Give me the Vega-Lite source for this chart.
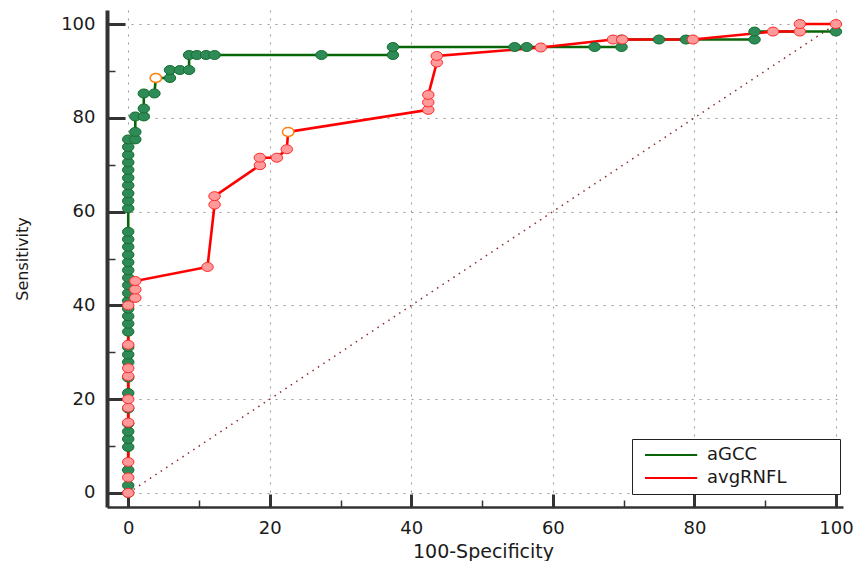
{
  "$schema": "https://vega.github.io/schema/vega-lite/v6.json",
  "width": 736,
  "height": 497,
  "autosize": {"type": "none"},
  "padding": {"left": 107, "top": 10, "right": 14, "bottom": 54},
  "background": "white",
  "config": {
    "view": {"stroke": null},
    "axis": {
      "labelFont": "DejaVu Sans",
      "labelFontSize": 18,
      "labelColor": "#1a1a1a",
      "titleFont": "DejaVu Sans",
      "titleFontSize": 16,
      "titleFontWeight": "normal",
      "titleColor": "#1a1a1a",
      "domainColor": "#333333",
      "tickColor": "#333333",
      "gridColor": "#9a9a9a",
      "gridDash": [2, 6],
      "gridWidth": 1
    }
  },
  "datasets": {
    "roc": [
      {"s": "aGCC", "i": 1, "x": 0, "y": 0, "opt": 0},
      {"s": "aGCC", "i": 2, "x": 0, "y": 1.6, "opt": 0},
      {"s": "aGCC", "i": 3, "x": 0, "y": 4.9, "opt": 0},
      {"s": "aGCC", "i": 4, "x": 0, "y": 9.8, "opt": 0},
      {"s": "aGCC", "i": 5, "x": 0, "y": 11.5, "opt": 0},
      {"s": "aGCC", "i": 6, "x": 0, "y": 13.1, "opt": 0},
      {"s": "aGCC", "i": 7, "x": 0, "y": 14.8, "opt": 0},
      {"s": "aGCC", "i": 8, "x": 0, "y": 18.0, "opt": 0},
      {"s": "aGCC", "i": 9, "x": 0, "y": 21.3, "opt": 0},
      {"s": "aGCC", "i": 10, "x": 0, "y": 24.6, "opt": 0},
      {"s": "aGCC", "i": 11, "x": 0, "y": 27.9, "opt": 0},
      {"s": "aGCC", "i": 12, "x": 0, "y": 29.5, "opt": 0},
      {"s": "aGCC", "i": 13, "x": 0, "y": 31.1, "opt": 0},
      {"s": "aGCC", "i": 14, "x": 0, "y": 34.4, "opt": 0},
      {"s": "aGCC", "i": 15, "x": 0, "y": 36.1, "opt": 0},
      {"s": "aGCC", "i": 16, "x": 0, "y": 37.7, "opt": 0},
      {"s": "aGCC", "i": 17, "x": 0, "y": 39.3, "opt": 0},
      {"s": "aGCC", "i": 18, "x": 0, "y": 41.0, "opt": 0},
      {"s": "aGCC", "i": 19, "x": 0, "y": 42.6, "opt": 0},
      {"s": "aGCC", "i": 20, "x": 0, "y": 44.3, "opt": 0},
      {"s": "aGCC", "i": 21, "x": 0, "y": 45.9, "opt": 0},
      {"s": "aGCC", "i": 22, "x": 0, "y": 47.5, "opt": 0},
      {"s": "aGCC", "i": 23, "x": 0, "y": 49.2, "opt": 0},
      {"s": "aGCC", "i": 24, "x": 0, "y": 50.8, "opt": 0},
      {"s": "aGCC", "i": 25, "x": 0, "y": 52.5, "opt": 0},
      {"s": "aGCC", "i": 26, "x": 0, "y": 54.1, "opt": 0},
      {"s": "aGCC", "i": 27, "x": 0, "y": 55.7, "opt": 0},
      {"s": "aGCC", "i": 28, "x": 0, "y": 60.7, "opt": 0},
      {"s": "aGCC", "i": 29, "x": 0, "y": 62.3, "opt": 0},
      {"s": "aGCC", "i": 30, "x": 0, "y": 63.9, "opt": 0},
      {"s": "aGCC", "i": 31, "x": 0, "y": 65.6, "opt": 0},
      {"s": "aGCC", "i": 32, "x": 0, "y": 67.2, "opt": 0},
      {"s": "aGCC", "i": 33, "x": 0, "y": 68.9, "opt": 0},
      {"s": "aGCC", "i": 34, "x": 0, "y": 70.5, "opt": 0},
      {"s": "aGCC", "i": 35, "x": 0, "y": 72.1, "opt": 0},
      {"s": "aGCC", "i": 36, "x": 0, "y": 73.8, "opt": 0},
      {"s": "aGCC", "i": 37, "x": 0, "y": 75.4, "opt": 0},
      {"s": "aGCC", "i": 38, "x": 1.0, "y": 75.4, "opt": 0},
      {"s": "aGCC", "i": 39, "x": 1.0, "y": 77.0, "opt": 0},
      {"s": "aGCC", "i": 40, "x": 1.0, "y": 80.3, "opt": 0},
      {"s": "aGCC", "i": 41, "x": 2.2, "y": 80.3, "opt": 0},
      {"s": "aGCC", "i": 42, "x": 2.2, "y": 82.0, "opt": 0},
      {"s": "aGCC", "i": 43, "x": 2.2, "y": 85.2, "opt": 0},
      {"s": "aGCC", "i": 44, "x": 3.7, "y": 85.2, "opt": 0},
      {"s": "aGCC", "i": 45, "x": 3.9, "y": 88.5, "opt": 1},
      {"s": "aGCC", "i": 46, "x": 5.9, "y": 88.5, "opt": 0},
      {"s": "aGCC", "i": 47, "x": 5.9, "y": 90.2, "opt": 0},
      {"s": "aGCC", "i": 48, "x": 7.3, "y": 90.2, "opt": 0},
      {"s": "aGCC", "i": 49, "x": 8.6, "y": 90.2, "opt": 0},
      {"s": "aGCC", "i": 50, "x": 8.6, "y": 93.4, "opt": 0},
      {"s": "aGCC", "i": 51, "x": 9.7, "y": 93.4, "opt": 0},
      {"s": "aGCC", "i": 52, "x": 11.0, "y": 93.4, "opt": 0},
      {"s": "aGCC", "i": 53, "x": 12.2, "y": 93.4, "opt": 0},
      {"s": "aGCC", "i": 54, "x": 27.3, "y": 93.4, "opt": 0},
      {"s": "aGCC", "i": 55, "x": 37.4, "y": 93.4, "opt": 0},
      {"s": "aGCC", "i": 56, "x": 37.4, "y": 95.1, "opt": 0},
      {"s": "aGCC", "i": 57, "x": 54.6, "y": 95.1, "opt": 0},
      {"s": "aGCC", "i": 58, "x": 56.3, "y": 95.1, "opt": 0},
      {"s": "aGCC", "i": 59, "x": 65.9, "y": 95.1, "opt": 0},
      {"s": "aGCC", "i": 60, "x": 69.7, "y": 95.1, "opt": 0},
      {"s": "aGCC", "i": 61, "x": 69.7, "y": 96.7, "opt": 0},
      {"s": "aGCC", "i": 62, "x": 75.0, "y": 96.7, "opt": 0},
      {"s": "aGCC", "i": 63, "x": 78.8, "y": 96.7, "opt": 0},
      {"s": "aGCC", "i": 64, "x": 88.5, "y": 96.7, "opt": 0},
      {"s": "aGCC", "i": 65, "x": 88.5, "y": 98.4, "opt": 0},
      {"s": "aGCC", "i": 66, "x": 100, "y": 98.4, "opt": 0},
      {"s": "avgRNFL", "i": 1, "x": 0, "y": 0, "opt": 0},
      {"s": "avgRNFL", "i": 2, "x": 0, "y": 3.3, "opt": 0},
      {"s": "avgRNFL", "i": 3, "x": 0, "y": 6.6, "opt": 0},
      {"s": "avgRNFL", "i": 4, "x": 0, "y": 15.0, "opt": 0},
      {"s": "avgRNFL", "i": 5, "x": 0, "y": 18.2, "opt": 0},
      {"s": "avgRNFL", "i": 6, "x": 0, "y": 20.0, "opt": 0},
      {"s": "avgRNFL", "i": 7, "x": 0, "y": 24.9, "opt": 0},
      {"s": "avgRNFL", "i": 8, "x": 0, "y": 26.6, "opt": 0},
      {"s": "avgRNFL", "i": 9, "x": 0, "y": 31.6, "opt": 0},
      {"s": "avgRNFL", "i": 10, "x": 0, "y": 40.0, "opt": 0},
      {"s": "avgRNFL", "i": 11, "x": 1.0, "y": 41.6, "opt": 0},
      {"s": "avgRNFL", "i": 12, "x": 1.0, "y": 43.4, "opt": 0},
      {"s": "avgRNFL", "i": 13, "x": 1.0, "y": 45.2, "opt": 0},
      {"s": "avgRNFL", "i": 14, "x": 11.2, "y": 48.2, "opt": 0},
      {"s": "avgRNFL", "i": 15, "x": 12.2, "y": 61.5, "opt": 0},
      {"s": "avgRNFL", "i": 16, "x": 12.2, "y": 63.3, "opt": 0},
      {"s": "avgRNFL", "i": 17, "x": 18.6, "y": 69.9, "opt": 0},
      {"s": "avgRNFL", "i": 18, "x": 18.6, "y": 71.5, "opt": 0},
      {"s": "avgRNFL", "i": 19, "x": 21.0, "y": 71.5, "opt": 0},
      {"s": "avgRNFL", "i": 20, "x": 22.4, "y": 73.3, "opt": 0},
      {"s": "avgRNFL", "i": 21, "x": 22.6, "y": 77.0, "opt": 1},
      {"s": "avgRNFL", "i": 22, "x": 42.4, "y": 81.7, "opt": 0},
      {"s": "avgRNFL", "i": 23, "x": 42.4, "y": 83.3, "opt": 0},
      {"s": "avgRNFL", "i": 24, "x": 42.4, "y": 84.9, "opt": 0},
      {"s": "avgRNFL", "i": 25, "x": 43.6, "y": 91.8, "opt": 0},
      {"s": "avgRNFL", "i": 26, "x": 43.6, "y": 93.2, "opt": 0},
      {"s": "avgRNFL", "i": 27, "x": 58.3, "y": 95.0, "opt": 0},
      {"s": "avgRNFL", "i": 28, "x": 68.5, "y": 96.7, "opt": 0},
      {"s": "avgRNFL", "i": 29, "x": 69.8, "y": 96.7, "opt": 0},
      {"s": "avgRNFL", "i": 30, "x": 79.8, "y": 96.7, "opt": 0},
      {"s": "avgRNFL", "i": 31, "x": 91.1, "y": 98.4, "opt": 0},
      {"s": "avgRNFL", "i": 32, "x": 94.9, "y": 98.4, "opt": 0},
      {"s": "avgRNFL", "i": 33, "x": 94.9, "y": 100, "opt": 0},
      {"s": "avgRNFL", "i": 34, "x": 100, "y": 100, "opt": 0}
    ],
    "diag": [{"x": 0, "y": 0}, {"x": 100, "y": 100}]
  },
  "layer": [
    {
      "data": {"name": "diag"},
      "mark": {"type": "line", "color": "#8b2a2a", "strokeWidth": 1.5, "strokeDash": [1.5, 5]},
      "encoding": {
        "x": {
          "field": "x", "type": "quantitative",
          "scale": {"domain": [-3, 101], "nice": false, "zero": false},
          "axis": {
            "title": "100-Specificity",
            "titleFontSize": 19,
            "titleX": 376,
            "values": [0, 5, 10, 15, 20, 25, 30, 35, 40, 45, 50, 55, 60, 65, 70, 75, 80, 85, 90, 95, 100],
            "labelExpr": "datum.value % 20 === 0 ? datum.label : ''",
            "grid": true,
            "gridOpacity": {"condition": {"test": "datum.value % 20 === 0", "value": 1}, "value": 0},
            "tickSize": {"condition": {"test": "datum.value % 20 === 0", "value": -13}, "value": -7},
            "tickWidth": {"condition": {"test": "datum.value % 20 === 0", "value": 3}, "value": 1.5},
            "domainWidth": 2.5,
            "labelPadding": 25,
            "titlePadding": 5
          }
        },
        "y": {
          "field": "y", "type": "quantitative",
          "scale": {"domain": [-3, 103], "nice": false, "zero": false},
          "axis": {
            "title": "Sensitivity",
            "values": [0, 5, 10, 15, 20, 25, 30, 35, 40, 45, 50, 55, 60, 65, 70, 75, 80, 85, 90, 95, 100],
            "labelExpr": "datum.value % 20 === 0 ? datum.label : ''",
            "grid": true,
            "gridOpacity": {"condition": {"test": "datum.value % 20 === 0", "value": 1}, "value": 0},
            "tickSize": {"condition": {"test": "datum.value % 20 === 0", "value": -18}, "value": -8},
            "tickWidth": {"condition": {"test": "datum.value % 20 === 0", "value": 3}, "value": 1.5},
            "domainWidth": 4,
            "labelPadding": 30,
            "titlePadding": 30
          }
        }
      }
    },
    {
      "data": {"name": "roc"},
      "mark": {"type": "line", "strokeWidth": 2.6},
      "encoding": {
        "x": {"field": "x", "type": "quantitative"},
        "y": {"field": "y", "type": "quantitative"},
        "order": {"field": "i", "type": "quantitative"},
        "color": {
          "field": "s", "type": "nominal",
          "scale": {"domain": ["aGCC", "avgRNFL"], "range": ["#086608", "#ff0000"]},
          "legend": {
            "title": null,
            "orient": "none",
            "legendX": 525,
            "legendY": 429,
            "symbolType": "M-0.5,0L8.2,0",
            "symbolSize": 144,
            "symbolStrokeWidth": 2,
            "labelFont": "DejaVu Sans",
            "labelFontSize": 18,
            "labelColor": "#1a1a1a",
            "labelOffset": 50,
            "labelExpr": "datum.label + '\u2007\u2007\u2007\u2007\u200b'",
            "rowPadding": 5,
            "padding": 7,
            "strokeColor": "#222222",
            "fillColor": "white"
          }
        }
      }
    },
    {
      "data": {"name": "roc"},
      "transform": [{"filter": "datum.opt == 0"}],
      "mark": {"type": "point", "filled": true, "size": 100, "shape": "M-1.15,0A1.15,0.9 0 1,0 1.15,0A1.15,0.9 0 1,0 -1.15,0Z", "strokeWidth": 1, "opacity": 1},
      "encoding": {
        "x": {"field": "x", "type": "quantitative"},
        "y": {"field": "y", "type": "quantitative"},
        "fill": {"field": "s", "type": "nominal", "scale": {"domain": ["aGCC", "avgRNFL"], "range": ["#2e8b57", "#ff9a9a"]}, "legend": null},
        "stroke": {"field": "s", "type": "nominal", "scale": {"domain": ["aGCC", "avgRNFL"], "range": ["#17702f", "#ff2a2a"]}, "legend": null}
      }
    },
    {
      "data": {"name": "roc"},
      "transform": [{"filter": "datum.opt == 1"}],
      "mark": {"type": "point", "filled": false, "size": 100, "shape": "M-1.15,0A1.15,0.9 0 1,0 1.15,0A1.15,0.9 0 1,0 -1.15,0Z", "strokeWidth": 1.5, "fill": "white", "fillOpacity": 1, "stroke": "#ff7f0e", "opacity": 1},
      "encoding": {
        "x": {"field": "x", "type": "quantitative"},
        "y": {"field": "y", "type": "quantitative"}
      }
    }
  ]
}
